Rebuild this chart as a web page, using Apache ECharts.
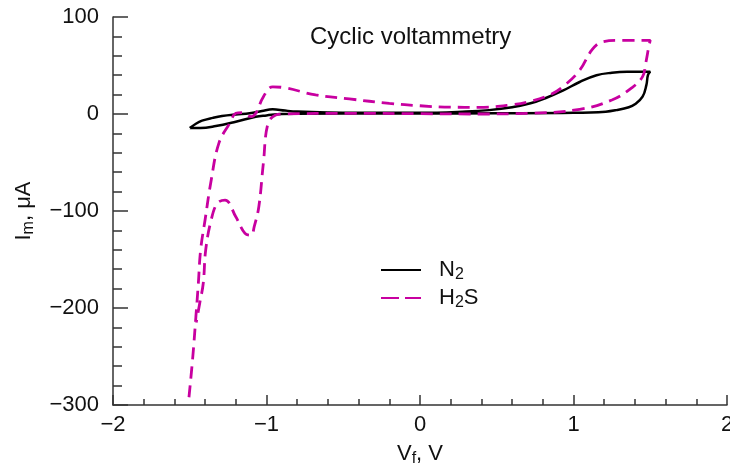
<!DOCTYPE html>
<html>
<head>
<meta charset="utf-8">
<script src="https://cdn.jsdelivr.net/npm/echarts@6/dist/echarts.min.js"></script>
<style>
  html, body { margin: 0; padding: 0; background: #fff; }
  #chart { width: 730px; height: 467px; }
</style>
</head>
<body>
<div id="chart"></div>
<script>
// ---- Data ----
const chartTitle = 'Cyclic voltammetry';
const seriesNames = ['N2', 'H2S'];

// N2 (black, solid) – loop, in drawing order
const n2V = [-1.50, -1.46, -1.42, -1.35, -1.29, -1.20, -1.11, -1.03, -0.96, -0.88, -0.80, -0.60, -0.40, 0.00, 0.30, 0.45, 0.60, 0.72, 0.82, 0.93, 1.04, 1.15, 1.25, 1.35, 1.50,
             1.485, 1.475, 1.45, 1.40, 1.36, 1.28, 1.21, 1.00, 0.50, 0.00, -0.50, -0.90, -1.00, -1.07, -1.20, -1.33, -1.43, -1.50];
const n2I = [-14.5, -10.0, -6.9, -4.0, -2.1, -0.5, 0.7, 3.0, 4.8, 3.5, 2.5, 1.5, 1.2, 1.2, 2.5, 4.0, 7.0, 11.0, 16.5, 24.0, 33.0, 40.0, 42.5, 43.5, 43.6,
             40.0, 30.0, 17.8, 10.0, 6.9, 4.0, 2.4, 1.2, 0.7, 0.5, 0.5, 0.0, -1.5, -2.8, -7.9, -12.4, -14.5, -14.5];

// H2S (magenta, dashed) – loop, in drawing order
const h2sV = [-1.505, -1.48, -1.46, -1.444, -1.429, -1.40, -1.36, -1.31, -1.24, -1.20, -1.16, -1.10, -1.07, -1.02, -0.96, -0.90, -0.68, -0.46, -0.20, 0.00, 0.20, 0.38, 0.60, 0.71, 0.85, 0.93, 1.04, 1.12, 1.19, 1.30, 1.50,
              1.49, 1.47, 1.45, 1.38, 1.25, 1.04, 0.71, 0.38, 0.00, -0.46, -0.90, -0.94, -0.99, -1.02, -1.05, -1.08, -1.10, -1.14, -1.20, -1.27, -1.32, -1.36, -1.396, -1.412, -1.435, -1.458];
const h2sI = [-292, -250, -209, -174.5, -140, -109, -68, -30, -9.6, 0.7, 1.4, -2.7, 0.7, 17.9, 28.0, 27.5, 19.6, 15.5, 11.0, 8.5, 7.0, 6.9, 9.5, 12.7, 20.0, 28.0, 45.0, 66.0, 74.5, 76.0, 76.0,
              69.0, 52.0, 38.5, 27.0, 14.4, 4.8, 0.7, 0.0, 0.3, 0.7, 0.0, -1.0, -9.6, -50, -95.6, -116, -125, -123, -106, -88.7, -92, -109, -140, -174.5, -195, -215];

// Axis ranges / ticks
const xMin = -2, xMax = 2, xStep = 1;
const yMin = -300, yMax = 100, yStep = 100;

// ---- Build chart ----
const zip = (a, b) => a.map((v, i) => [v, b[i]]);
const minus = v => String(v).replace('-', '\u2212');
const FONT = '"Liberation Sans", Arial, Helvetica, sans-serif';
const AX = '#333';
const MAGENTA = '#c800a0';

const chart = echarts.init(document.getElementById('chart'), null, { renderer: 'canvas' });
chart.setOption({
  animation: false,
  backgroundColor: '#fff',
  title: {
    text: chartTitle,
    left: 305, top: 20,
    textStyle: { fontFamily: FONT, fontSize: 24, fontWeight: 'normal', color: '#111' }
  },
  grid: { left: 113, right: 3, top: 17, bottom: 62, containLabel: false, outerBoundsMode: 'none' },
  legend: {
    orient: 'vertical',
    left: 380, top: 257, padding: 0,
    itemWidth: 40, itemHeight: 14, itemGap: 2,
    data: [
      { name: seriesNames[0] },
      { name: seriesNames[1], lineStyle: { type: [18, 6] } }
    ],
    itemStyle: { opacity: 0 },
    formatter: n => n === 'N2' ? 'N{s|2}' : 'H{s|2}S',
    textStyle: {
      fontFamily: FONT, fontSize: 22, color: '#111', lineHeight: 26,
      padding: [0, 0, 0, 13],
      rich: { s: { fontFamily: FONT, fontSize: 16, lineHeight: 16, verticalAlign: 'bottom' } }
    }
  },
  xAxis: {
    type: 'value', min: xMin, max: xMax, interval: xStep,
    name: 'V{s|f}, V', nameLocation: 'middle', nameGap: 36,
    nameTextStyle: {
      fontFamily: FONT, fontSize: 22, color: '#111', lineHeight: 26,
      rich: { s: { fontFamily: FONT, fontSize: 16, lineHeight: 14, verticalAlign: 'bottom' } }
    },
    axisLine: { show: true, onZero: false, lineStyle: { color: AX, width: 1.5 } },
    axisTick: { show: true, inside: true, length: 10, lineStyle: { color: AX, width: 1.5 } },
    minorTick: { show: true, splitNumber: 5, length: 6, lineStyle: { color: AX, width: 1.5 } },
    splitLine: { show: false },
    axisLabel: { fontFamily: FONT, fontSize: 22, color: '#111', margin: 9, formatter: minus, showMaxLabel: true }
  },
  yAxis: {
    type: 'value', min: yMin, max: yMax, interval: yStep,
    name: 'I{s|m}, μA', nameLocation: 'middle', nameGap: 76, nameRotate: 90,
    nameTextStyle: {
      fontFamily: FONT, fontSize: 22, color: '#111', lineHeight: 26,
      rich: { s: { fontFamily: FONT, fontSize: 16, lineHeight: 14, verticalAlign: 'bottom' } }
    },
    axisLine: { show: true, onZero: false, lineStyle: { color: AX, width: 1.5 } },
    axisTick: { show: true, inside: true, length: 15, lineStyle: { color: AX, width: 1.5 } },
    minorTick: { show: true, splitNumber: 5, length: 9, lineStyle: { color: AX, width: 1.5 } },
    splitLine: { show: false },
    axisLabel: { fontFamily: FONT, fontSize: 22, color: '#111', margin: 14, formatter: minus }
  },
  series: [
    {
      name: 'N2', type: 'line', data: zip(n2V, n2I),
      showSymbol: false, symbol: 'none', smooth: 0.4, clip: true,
      lineStyle: { color: '#000', width: 2.5, type: 'solid' },
      itemStyle: { color: '#000' }
    },
    {
      name: 'H2S', type: 'line', data: zip(h2sV, h2sI),
      showSymbol: false, symbol: 'none', smooth: 0.4, clip: true,
      lineStyle: { color: MAGENTA, width: 2.8, type: [12, 7] },
      itemStyle: { color: MAGENTA }
    }
  ]
});
</script>
</body>
</html>
